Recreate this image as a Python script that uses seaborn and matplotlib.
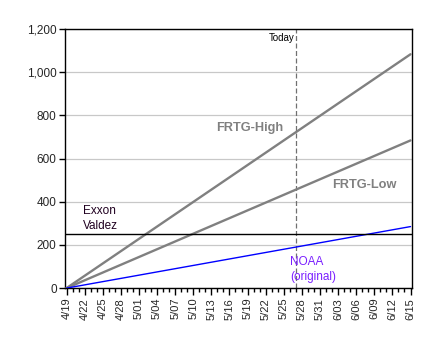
import matplotlib
matplotlib.use("Agg")
import matplotlib.pyplot as plt
import matplotlib.dates as mdates
import matplotlib.ticker as mticker
import pandas as pd
import seaborn as sns

# Cumulative oil spilled (thousand barrels), straight-line accumulation
dates = ["2010-04-19", "2010-06-15"]
frtg_high = [0, 1083]
frtg_low = [0, 684]
noaa = [0, 285]
exxon_valdez = 250
today = "2010-05-27"

df = pd.DataFrame({
    "date": pd.to_datetime(dates * 3),
    "value": frtg_high + frtg_low + noaa,
    "series": ["FRTG-High"] * 2 + ["FRTG-Low"] * 2 + ["NOAA"] * 2,
})

sns.set_theme(style="white")
plt.rcParams["font.family"] = ["Liberation Sans", "DejaVu Sans"]

fig = plt.figure(figsize=(4.44, 3.43), dpi=100)
ax = fig.add_axes([0.1464, 0.160, 0.7816, 0.7555])

palette = {"FRTG-High": "#808080", "FRTG-Low": "#808080", "NOAA": "#0000ff"}
widths = {"FRTG-High": 1.7, "FRTG-Low": 1.7, "NOAA": 1.0}
for name, sub in df.groupby("series"):
    sns.lineplot(data=sub, x="date", y="value", color=palette[name],
                 lw=widths[name], ax=ax, legend=False, zorder=3)

ax.axhline(exxon_valdez, color="black", lw=1.0, zorder=4)
ax.axvline(pd.Timestamp(today), color="#707070", lw=0.9, ls=(0, (4, 2)), zorder=2)

start, end = pd.Timestamp(dates[0]), pd.Timestamp(dates[1])
ax.set_xlim(start - pd.Timedelta(hours=6), end + pd.Timedelta(hours=6))
ax.set_ylim(0, 1200)

major = pd.date_range(start, end, freq="3D")
minor = pd.date_range(start, end, freq="1D")
ax.xaxis.set_major_locator(mticker.FixedLocator(mdates.date2num(major)))
ax.xaxis.set_minor_locator(mticker.FixedLocator(mdates.date2num(minor)))
ax.xaxis.set_major_formatter(mticker.FuncFormatter(
    lambda v, p: f"{mdates.num2date(v).month}/{mdates.num2date(v).day:02d}"))
ax.yaxis.set_major_locator(mticker.MultipleLocator(200))
ax.yaxis.set_major_formatter(mticker.StrMethodFormatter("{x:,.0f}"))

ax.grid(axis="y", color="#c8c8c8", lw=0.9)
ax.set_axisbelow(True)
for s in ax.spines.values():
    s.set_color("black")
    s.set_linewidth(1.0)

ax.tick_params(axis="x", which="major", direction="out", length=5, width=1,
               color="black", labelsize=8, labelrotation=90, pad=2, bottom=True)
ax.tick_params(axis="x", which="minor", direction="out", length=3, width=1,
               color="black", bottom=True)
ax.tick_params(axis="y", direction="out", length=4, width=1, color="black",
               labelsize=8.5, pad=2, left=True)
ax.set_xlabel("")
ax.set_ylabel("")

ax.text(pd.Timestamp("2010-05-19T10"), 740, "FRTG-High", color="#808080",
        fontsize=9.2, fontweight="bold", ha="center", va="center")
ax.text(pd.Timestamp("2010-06-07T10"), 476, "FRTG-Low", color="#808080",
        fontsize=9.2, fontweight="bold", ha="center", va="center")
ax.text(pd.Timestamp("2010-04-21T16"), 323, "Exxon\nValdez", color="#200020",
        fontsize=8.5, ha="left", va="center", linespacing=1.3)
ax.text(pd.Timestamp("2010-05-26"), 85, "NOAA\n(original)", color="#7a1fff",
        fontsize=8.5, ha="left", va="center", linespacing=1.3)
ax.text(pd.Timestamp(today) - pd.Timedelta(hours=4), 1160, "Today",
        color="black", fontsize=7, ha="right", va="center")

fig.savefig("out.png", dpi=100)
